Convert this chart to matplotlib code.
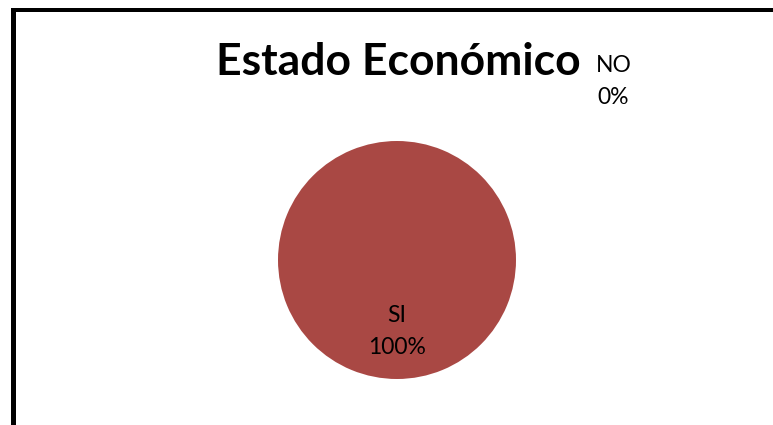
import matplotlib
matplotlib.use("Agg")
import matplotlib.pyplot as plt
from matplotlib.patches import Rectangle

categorias = ["SI", "NO"]
valores = [100, 0]
colores = ["#A94844", "#4F81BD"]

W, H = 773, 425
fig = plt.figure(figsize=(W / 100, H / 100), dpi=100)
fig.patch.set_facecolor("white")

# pie area: centre (397, 260), radius 119 px
cx, cy, r = 397, 260, 119
ax = fig.add_axes([(cx - r) / W, 1 - (cy + r) / H, 2 * r / W, 2 * r / H])
ax.pie(valores, colors=colores, startangle=90, counterclock=False, radius=1,
       wedgeprops=dict(linewidth=0))
ax.set_xlim(-1, 1)
ax.set_ylim(-1, 1)
ax.set_aspect("equal")
ax.axis("off")

total = sum(valores)
posiciones = [(0.0, -0.60), (1.82, 1.50)]
for cat, v, (px, py) in zip(categorias, valores, posiciones):
    ax.text(px, py, f"{cat}\n{v / total:.0%}", ha="center", va="center",
            fontsize=16.5, family="Lato", color="black", linespacing=1.65,
            clip_on=False)

fig.text(398 / W, 1 - 75 / H, "Estado Económico", ha="center", va="baseline",
         fontsize=32, fontweight="bold", family="Lato", color="black")

# outer frame lines (left and top)
fig.add_artist(Rectangle((11 / W, 0), 4.5 / W, 1 - 8 / H,
                         transform=fig.transFigure, color="black", lw=0))
fig.add_artist(Rectangle((11 / W, 1 - 11.5 / H), 1, 3.5 / H,
                         transform=fig.transFigure, color="black", lw=0))

fig.savefig("out.png", dpi=100, facecolor="white")
